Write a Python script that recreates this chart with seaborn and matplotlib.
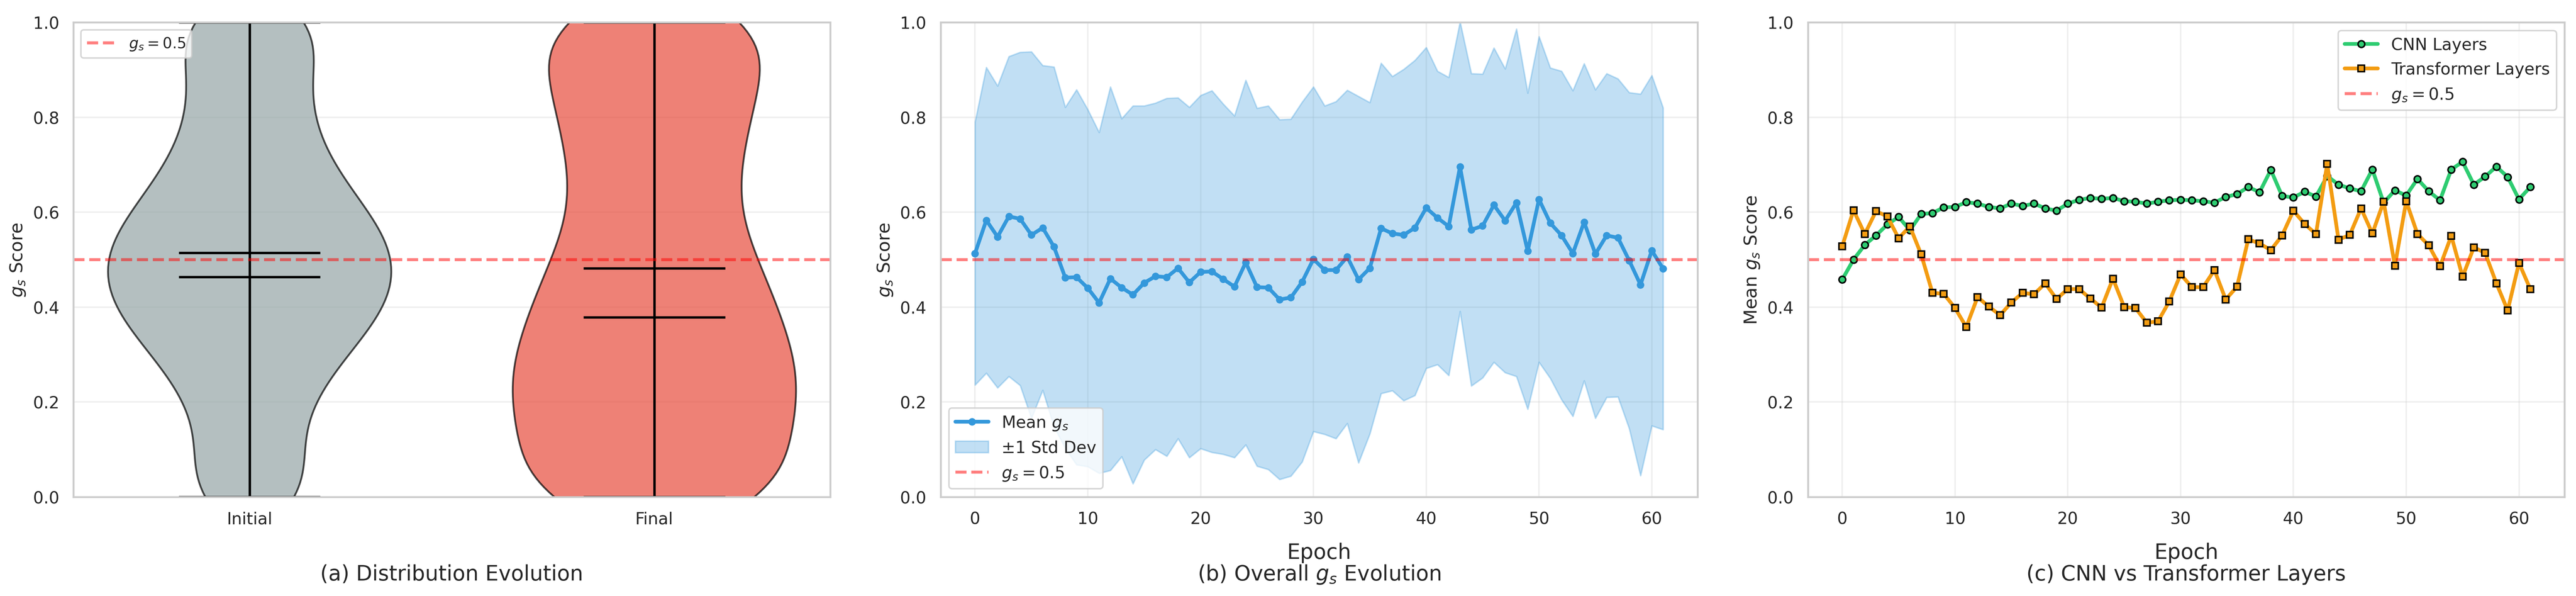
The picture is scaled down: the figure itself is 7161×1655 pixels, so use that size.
import numpy as np
import pandas as pd
import matplotlib
matplotlib.use("Agg")
import matplotlib.pyplot as plt
import seaborn as sns

# Panel (a): g_s samples per stage, given as values and how often they occur
violin_grid = [0.00, 0.05, 0.10, 0.15, 0.20, 0.25, 0.30, 0.35, 0.40, 0.45, 0.50,
               0.55, 0.60, 0.65, 0.70, 0.75, 0.80, 0.85, 0.90, 0.95, 1.00]
initial_counts = [13, 7, 6, 7, 8, 10, 13, 16, 19, 20, 20, 19, 16, 13, 11, 9, 8, 8, 8, 7, 17]
final_counts = [27, 12, 14, 16, 17, 17, 16, 15, 14, 13, 12, 10, 9, 9, 10, 10, 11, 12, 12, 11, 23]
stages = ["Initial", "Final"]
stage_means = [0.5145, 0.4816]
stage_medians = [0.4638, 0.3789]

# Panel (b): overall g_s per epoch
mean_gs = [0.513, 0.583, 0.548, 0.591, 0.586, 0.552, 0.567, 0.527, 0.462, 0.463,
           0.440, 0.409, 0.460, 0.441, 0.426, 0.451, 0.465, 0.463, 0.482, 0.452,
           0.474, 0.475, 0.459, 0.443, 0.494, 0.442, 0.441, 0.416, 0.420, 0.453,
           0.501, 0.478, 0.478, 0.506, 0.458, 0.482, 0.566, 0.555, 0.552, 0.567,
           0.609, 0.588, 0.570, 0.696, 0.563, 0.571, 0.615, 0.582, 0.620, 0.518,
           0.627, 0.577, 0.551, 0.513, 0.579, 0.512, 0.551, 0.546, 0.498, 0.447,
           0.519, 0.481]
std_gs = [0.277, 0.322, 0.318, 0.337, 0.351, 0.386, 0.342, 0.379, 0.359, 0.395,
          0.376, 0.359, 0.404, 0.356, 0.398, 0.373, 0.365, 0.377, 0.359, 0.369,
          0.372, 0.381, 0.369, 0.360, 0.384, 0.377, 0.383, 0.379, 0.376, 0.379,
          0.363, 0.346, 0.355, 0.351, 0.386, 0.349, 0.348, 0.331, 0.349, 0.353,
          0.338, 0.309, 0.314, 0.305, 0.329, 0.320, 0.331, 0.320, 0.366, 0.333,
          0.343, 0.327, 0.346, 0.343, 0.334, 0.346, 0.341, 0.335, 0.354, 0.402,
          0.369, 0.339]

# Panel (c): mean g_s per layer type
cnn_gs = [0.458, 0.500, 0.531, 0.551, 0.574, 0.590, 0.562, 0.596, 0.598, 0.610,
          0.611, 0.621, 0.618, 0.611, 0.608, 0.618, 0.613, 0.618, 0.608, 0.603,
          0.618, 0.626, 0.630, 0.628, 0.630, 0.623, 0.622, 0.618, 0.622, 0.625,
          0.626, 0.625, 0.623, 0.620, 0.632, 0.638, 0.653, 0.642, 0.689, 0.634,
          0.631, 0.643, 0.633, 0.676, 0.658, 0.650, 0.644, 0.690, 0.620, 0.646,
          0.635, 0.670, 0.644, 0.625, 0.690, 0.706, 0.658, 0.675, 0.696, 0.674,
          0.627, 0.653]
transformer_gs = [0.528, 0.604, 0.554, 0.602, 0.591, 0.545, 0.570, 0.511, 0.430, 0.428,
                  0.398, 0.358, 0.421, 0.401, 0.383, 0.410, 0.430, 0.427, 0.450, 0.417,
                  0.438, 0.438, 0.418, 0.399, 0.460, 0.400, 0.398, 0.367, 0.370, 0.412,
                  0.469, 0.442, 0.442, 0.478, 0.416, 0.443, 0.543, 0.534, 0.520, 0.551,
                  0.603, 0.575, 0.554, 0.702, 0.542, 0.552, 0.608, 0.555, 0.622, 0.487,
                  0.623, 0.554, 0.530, 0.486, 0.550, 0.464, 0.526, 0.514, 0.450, 0.393,
                  0.493, 0.438]

epochs = np.arange(len(mean_gs))

sns.set_theme(style="whitegrid")
plt.rcParams["font.family"] = ["DejaVu Sans"]

fig, axes = plt.subplots(1, 3, figsize=(7161 / 300, 1656 / 300))
fig.subplots_adjust(left=0.0285, right=0.9956, bottom=0.1661, top=0.962, wspace=0.1458)

# (a) violins
ax = axes[0]
df = pd.DataFrame({
    "stage": ["Initial"] * sum(initial_counts) + ["Final"] * sum(final_counts),
    "g_s": np.concatenate([np.repeat(violin_grid, initial_counts),
                           np.repeat(violin_grid, final_counts)]),
})
sns.violinplot(data=df, x="stage", y="g_s", hue="stage", order=stages,
               palette=["#95a5a6", "#e74c3c"], saturation=1, cut=0, inner=None,
               density_norm="width", width=0.7, bw_adjust=0.85,
               linewidth=1.2, linecolor="black", alpha=0.7, legend=False, ax=ax)
pos = np.arange(len(stages))
mins = df.groupby("stage")["g_s"].min().reindex(stages).values
maxs = df.groupby("stage")["g_s"].max().reindex(stages).values
ax.vlines(pos, mins, maxs, color="black", lw=1.6)
for vals in (mins, maxs, stage_means, stage_medians):
    ax.hlines(vals, pos - 0.175, pos + 0.175, color="black", lw=1.6)
ax.axhline(0.5, color="red", ls="--", lw=2, alpha=0.5, label="$g_s = 0.5$")
ax.set_xlim(-0.435, 1.435)
ax.set_ylim(0, 1)
ax.set_xlabel("")
ax.set_ylabel("$g_s$ Score", fontsize=12)
ax.grid(True, axis="y", alpha=0.3)
ax.legend(loc="upper left", fontsize=10)
ax.tick_params(labelsize=11)

# (b) overall evolution
ax = axes[1]
sns.lineplot(x=epochs, y=mean_gs, color="#3498db", linewidth=2.5, marker="o",
             markersize=4, markeredgecolor="#3498db", markeredgewidth=1,
             label="Mean $g_s$", ax=ax)
lower = np.array(mean_gs) - np.array(std_gs)
upper = np.array(mean_gs) + np.array(std_gs)
ax.fill_between(epochs, lower, upper, color="#3498db", alpha=0.3, label="±1 Std Dev")
ax.axhline(0.5, color="red", ls="--", lw=2, alpha=0.5, label="$g_s = 0.5$")
ax.set_ylim(0, 1)
ax.set_xlabel("Epoch", fontsize=14, labelpad=10)
ax.set_ylabel("$g_s$ Score", fontsize=12)
ax.grid(True, alpha=0.3)
ax.legend(loc="lower left", fontsize=11)
ax.tick_params(labelsize=11)

# (c) CNN vs Transformer
ax = axes[2]
sns.lineplot(x=epochs, y=cnn_gs, color="#2ecc71", linewidth=2.5, marker="o",
             markersize=4.5, markeredgecolor="black", markeredgewidth=1,
             label="CNN Layers", ax=ax)
sns.lineplot(x=epochs, y=transformer_gs, color="#f39c12", linewidth=2.5, marker="s",
             markersize=4.5, markeredgecolor="black", markeredgewidth=1,
             label="Transformer Layers", ax=ax)
ax.axhline(0.5, color="red", ls="--", lw=2, alpha=0.5, label="$g_s = 0.5$")
ax.set_ylim(0, 1)
ax.set_xlabel("Epoch", fontsize=14, labelpad=10)
ax.set_ylabel("Mean $g_s$ Score", fontsize=12)
ax.grid(True, alpha=0.3)
ax.legend(loc="upper right", fontsize=11)
ax.tick_params(labelsize=11)

subtitles = ["(a) Distribution Evolution", "(b) Overall $g_s$ Evolution",
             "(c) CNN vs Transformer Layers"]
for ax, txt in zip(axes, subtitles):
    ax.text(0.5, -0.1753, txt, transform=ax.transAxes, ha="center",
            va="baseline", fontsize=14)

fig.savefig("out.png", dpi=300)
